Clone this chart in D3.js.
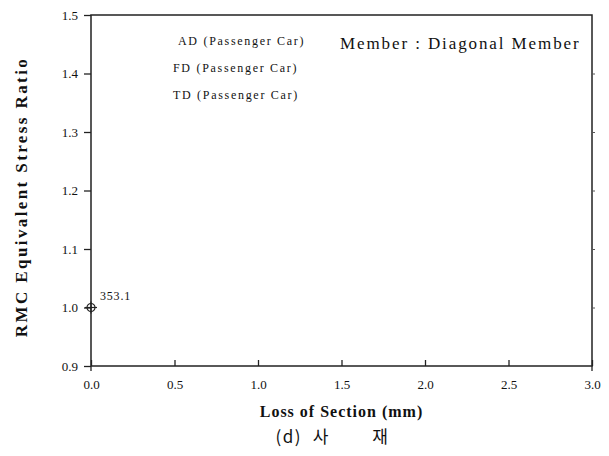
<!DOCTYPE html>
<html>
<head>
<meta charset="utf-8">
<script src="https://cdn.jsdelivr.net/npm/d3@7"></script>
<style>
  body { margin: 0; background: #fff; }
  text { font-family: "Liberation Serif", "DejaVu Serif", serif; fill: #111; }
</style>
</head>
<body>
<div id="my_dataviz"></div>
<script>
(function(){
// data
var seriesNames = ["AD (Passenger Car)", "FD (Passenger Car)", "TD (Passenger Car)"];
var lossValues = [0.0];
var ratioValues = [1.0];
var pointLabels = ["353.1"];
var xTicks = [0.0, 0.5, 1.0, 1.5, 2.0, 2.5, 3.0];
var yTicks = [0.9, 1.0, 1.1, 1.2, 1.3, 1.4, 1.5];

var data = lossValues.map(function (d, i) {
    return { loss: d, ratio: ratioValues[i], label: pointLabels[i] };
});

// set the dimensions and margins of the graph
var margin = { top: 15, right: 17, bottom: 90, left: 91 },
    width = 609 - margin.left - margin.right,
    height = 456 - margin.top - margin.bottom;

var svg = d3.select("#my_dataviz")
    .append("svg")
    .attr("width", width + margin.left + margin.right)
    .attr("height", height + margin.top + margin.bottom)
    .append("g")
    .attr("transform", "translate(" + margin.left + "," + margin.top + ")");

var x = d3.scaleLinear().domain([0, 3]).range([0, width]);
var y = d3.scaleLinear().domain([0.9, 1.5]).range([height, 0]);

// frame
svg.append("rect")
    .attr("width", width)
    .attr("height", height)
    .attr("fill", "none")
    .attr("stroke", "#222")
    .attr("stroke-width", 1.5);

// x axis, ticks pointing inward
var xAxis = svg.append("g")
    .attr("transform", "translate(0," + height + ")")
    .call(d3.axisBottom(x).tickValues(xTicks).tickSize(-6).tickPadding(14)
        .tickFormat(d3.format(".1f")));
xAxis.select(".domain").remove();
xAxis.selectAll("line").attr("stroke", "#222").attr("stroke-width", 1.3);
xAxis.selectAll("text").style("font-size", "13px")
    .style("font-family", "Liberation Serif, serif").attr("fill", "#222");
// crossing ticks at both ends
svg.selectAll(".xend").data([0, 3]).enter().append("line")
    .attr("x1", function (d) { return x(d); }).attr("x2", function (d) { return x(d); })
    .attr("y1", height).attr("y2", height + 5)
    .attr("stroke", "#222").attr("stroke-width", 1.3);

// y axis, ticks pointing outward
var yAxis = svg.append("g")
    .call(d3.axisLeft(y).tickValues(yTicks).tickSize(7).tickPadding(6)
        .tickFormat(d3.format(".1f")));
yAxis.select(".domain").remove();
yAxis.selectAll("line").attr("stroke", "#222").attr("stroke-width", 1.3);
yAxis.selectAll("text").style("font-size", "13px")
    .style("font-family", "Liberation Serif, serif").attr("fill", "#222");

// small inward ticks on the right side
svg.append("g")
    .attr("transform", "translate(" + width + ",0)")
    .call(d3.axisLeft(y).tickValues(yTicks.slice(1, -1)).tickSize(3).tickFormat(""))
    .call(function (g) { g.select(".domain").remove(); })
    .selectAll("line").attr("stroke", "#555").attr("transform", "translate(3,0)");

// axis labels
svg.append("text")
    .attr("text-anchor", "middle")
    .attr("x", width / 2)
    .attr("y", height + 51)
    .style("font-size", "16px")
    .style("font-weight", "bold")
    .style("letter-spacing", "1px")
    .text("Loss of Section (mm)");

svg.append("text")
    .attr("text-anchor", "middle")
    .attr("transform", "rotate(-90)")
    .attr("x", -182)
    .attr("y", -margin.left + 27)
    .style("font-size", "17px")
    .style("font-weight", "bold")
    .style("letter-spacing", "2.4px")
    .text("RMC Equivalent Stress Ratio");

// caption
svg.append("text")
    .attr("text-anchor", "middle")
    .attr("x", width / 2 - 9)
    .attr("y", height + 77)
    .style("font-family", "Noto Sans CJK KR, Noto Sans, sans-serif")
    .style("font-size", "17px")
    .style("letter-spacing", "1.5px")
    .style("white-space", "pre")
    .text("(d)  사        재");

// legend (text only, symbols faded out in the source)
svg.selectAll(".legend").data(seriesNames).enter().append("text")
    .attr("x", function (d, i) { return [87, 82, 82][i]; })
    .attr("y", function (d, i) { return [30, 57, 84][i]; })
    .style("font-size", "12px")
    .style("letter-spacing", "1.7px")
    .attr("fill", "#333")
    .text(function (d) { return d; });

svg.append("text")
    .attr("x", 249)
    .attr("y", 34)
    .style("font-size", "17px")
    .style("letter-spacing", "1.9px")
    .text("Member : Diagonal Member");

// points with crosshair marker
var pts = svg.selectAll(".pt").data(data).enter().append("g")
    .attr("transform", function (d) { return "translate(" + x(d.loss) + "," + y(d.ratio) + ")"; });
pts.append("circle").attr("r", 4).attr("fill", "none").attr("stroke", "#222").attr("stroke-width", 1.2);
pts.append("line").attr("x1", -6).attr("x2", 6).attr("stroke", "#222").attr("stroke-width", 1.2);
pts.append("line").attr("y1", -6).attr("y2", 6).attr("stroke", "#222").attr("stroke-width", 1.2);
pts.append("text")
    .attr("x", 9).attr("y", -8)
    .style("font-size", "12px")
    .style("letter-spacing", "0.8px")
    .attr("fill", "#333")
    .text(function (d) { return d.label; });
})();
</script>
</body>
</html>
